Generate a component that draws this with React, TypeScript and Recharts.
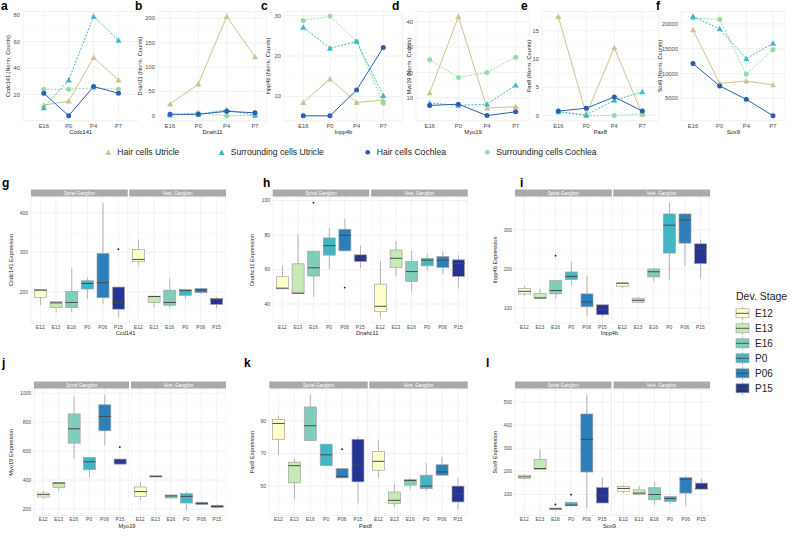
import { LineChart, Line, XAxis, YAxis, CartesianGrid, ComposedChart, Bar } from 'recharts';

const FONT = '"Liberation Sans", Arial, Helvetica, sans-serif';
const TICK = '#4d4d4d';
const GRID = '#ebebeb';
const GRID_MINOR = '#f4f4f4';

// ---- top row: normalised counts (one row per gene) ----
const genes = ['Ccdc141', 'Dnah11', 'Inpp4b', 'Myo19', 'Pax8', 'Sox9'];
const timepoints = ['E16', 'P0', 'P4', 'P7'];
const groups = ['Hair cells Utricle', 'Surrounding cells Utricle', 'Hair cells Cochlea', 'Surrounding cells Cochlea'];

const hairUtricle = [
  [12, 15, 48, 31],
  [24, 65, 204, 121],
  [8.5, 14.3, 8.5, 9.1],
  [12, 42, 6, 6.5],
  [17.5, 0.2, 12, 0.2],
  [18800, 8000, 8500, 7700],
];
const surroundUtricle = [
  [10, 31, 79, 61],
  [2, 3, 12, 1],
  [27.1, 21.9, 23.6, 10.2],
  [8, 7, 7.5, 15],
  [0.7, 0.1, 2.7, 4.2],
  [21500, 19000, 13000, 16100],
];
const hairCochlea = [
  [21, 4, 26, 21],
  [3, 3, 9, 6],
  [5.2, 5.2, 11.6, 22.1],
  [7, 7.5, 3, 4.5],
  [0.8, 1.3, 3.3, 0.8],
  [12000, 7500, 4800, 1500],
];
const surroundCochlea = [
  [24, 24, 25, 24],
  [1, 6, 0, 1],
  [28.8, 29.8, 23.6, 8.3],
  [25, 18, 20, 26],
  [0.6, 0, 0, 0.3],
  [21200, 20900, 9900, 14800],
];

const countTicks = [
  [20, 40, 60, 80],
  [0, 50, 100, 150, 200],
  [10, 20, 30],
  [10, 20, 30, 40],
  [0, 5, 10, 15],
  [5000, 10000, 15000, 20000],
];
const countMinor = [
  [10, 30, 50, 70],
  [25, 75, 125, 175],
  [5, 15, 25],
  [5, 15, 25, 35],
  [2.5, 7.5, 12.5, 17.5],
  [2500, 7500, 12500, 17500, 22500],
];
const countDomains = [
  [0.25, 82.75],
  [-10.2, 214.2],
  [4, 31],
  [1, 44],
  [-0.9, 18.4],
  [500, 22500],
];

// ---- boxplots: [min, q1, median, q3, max] per stage ----
const stages = ['E12', 'E13', 'E16', 'P0', 'P06', 'P15'];
const stageColors = ['#ffffcc', '#c7e9b4', '#7fcdbb', '#41b6c4', '#2c7fb8', '#253494'];

const ccdc141Spiral = [
  [166, 186, 204, 206, 207],
  [147, 160, 172, 175, 175],
  [149, 160, 173, 201, 259],
  [183, 207, 221, 228, 236],
  [170, 185, 223, 297, 425],
  [136, 156, 173, 212, 212],
];
const ccdc141Vest = [
  [268, 276, 282, 307, 332],
  [160, 173, 188, 189, 189],
  [160, 166, 173, 204, 234],
  [183, 191, 203, 206, 208],
  [194, 198, 205, 208, 208],
  [158, 168, 181, 183, 187],
];
const dnahc11Spiral = [
  [48.8, 48.8, 49.2, 55.8, 62.3],
  [46, 46, 46.3, 63.3, 80.2],
  [44.2, 56.2, 61, 70.6, 71],
  [60.4, 68.3, 73.8, 78.3, 84],
  [70.8, 70.8, 79.8, 83.3, 89.6],
  [60.8, 64.6, 66.5, 68.5, 73.7],
];
const dnahc11Vest = [
  [32.3, 35.6, 38.7, 51.5, 65],
  [56.3, 61.2, 66.5, 71.3, 76.5],
  [47.1, 53.1, 58.8, 64.6, 70.8],
  [59.2, 62.1, 65.4, 66.5, 68.8],
  [57.3, 61.2, 65.4, 67.5, 70.4],
  [49, 56, 63.5, 65.6, 68.3],
];
const inpp4bSpiral = [
  [130.5, 136.4, 143, 150, 156],
  [125.4, 125.4, 126, 138, 149],
  [123.7, 136.4, 145, 170.3, 170.3],
  [158.5, 173, 181, 192.4, 217],
  [80, 103.4, 116, 136.4, 183],
  [77, 83, 96.6, 108.5, 108.5],
];
const inpp4bVest = [
  [151.7, 156, 163.6, 164.4, 165],
  [115, 115, 120, 125.4, 129],
  [166, 179.7, 193, 200, 204],
  [171, 240.7, 312, 340.7, 369.5],
  [207, 266, 325, 340.7, 340.7],
  [176, 213.6, 253.4, 264.4, 274.6],
];
const myo19Spiral = [
  [271, 283, 299, 310, 326],
  [322, 349, 379, 384, 384],
  [547, 655, 754, 857, 977],
  [418, 471, 526, 556, 556],
  [639, 740, 839, 920, 989],
  [510, 510, 529, 545, 545],
];
const myo19Vest = [
  [260, 287, 320, 352, 384],
  [421, 421, 425, 430, 430],
  [271, 276, 290, 297, 299],
  [195, 241, 287, 306, 317],
  [230, 230, 239, 246, 251],
  [207, 211, 218, 225, 232],
];
const pax8Spiral = [
  [69.2, 78.7, 88.4, 90.8, 93.2],
  [41.9, 52, 62.5, 64.7, 66.8],
  [77.9, 77.9, 87, 98.5, 106],
  [62.5, 62.5, 69.2, 75.7, 75.7],
  [55, 55, 56, 60.7, 60.7],
  [39.5, 52.6, 63.5, 78.7, 80.3],
];
const pax8Vest = [
  [55, 59.7, 65.2, 71.2, 77.9],
  [37.3, 39.3, 41.3, 46.4, 51],
  [48, 50.6, 53.4, 54, 55],
  [47, 48.4, 50, 56.7, 64.1],
  [56.7, 56.7, 58.7, 63.1, 67.8],
  [35.5, 40.3, 45.4, 50, 55],
];
const sox9Spiral = [
  [166, 169, 176, 183, 187],
  [209, 209, 212, 252, 295],
  [34, 34, 38, 41, 41],
  [51, 51, 54, 66, 66],
  [40, 197, 338, 448, 531],
  [63, 63, 94, 130, 173],
];
const sox9Vest = [
  [106, 113, 126, 134, 140],
  [100, 100, 106, 120, 137],
  [56, 77, 100, 129, 154],
  [58, 70, 83, 91, 94],
  [51, 106, 166, 173, 180],
  [123, 123, 126, 149, 169],
];

// outliers in the spiral ganglion facet: [stage index, value]
const ccdc141Outliers = [[5, 308]];
const dnahc11Outliers = [[2, 98.8], [4, 49.5]];
const inpp4bOutliers = [[2, 234]];
const myo19Outliers = [[5, 628]];
const pax8Outliers = [[4, 72.6]];
const sox9Outliers = [[2, 57], [3, 99]];

const boxGenes = [
  { yTitle: 'Ccdc141 Expression', xTitle: 'Ccd141', spiral: ccdc141Spiral, vest: ccdc141Vest, outliers: ccdc141Outliers, domain: [121, 440], ticks: [200, 300, 400], minor: [150, 250, 350] },
  { yTitle: 'Dnahc11 Expression', xTitle: 'Dnahc11', spiral: dnahc11Spiral, vest: dnahc11Vest, outliers: dnahc11Outliers, domain: [29, 102], ticks: [40, 60, 80, 100], minor: [30, 50, 70, 90] },
  { yTitle: 'Inpp4b Expression', xTitle: 'Inpp4b', spiral: inpp4bSpiral, vest: inpp4bVest, outliers: inpp4bOutliers, domain: [62, 384], ticks: [100, 200, 300], minor: [150, 250, 350] },
  { yTitle: 'Myo19 Expression', xTitle: 'Myo19', spiral: myo19Spiral, vest: myo19Vest, outliers: myo19Outliers, domain: [155, 1029], ticks: [200, 400, 600, 800, 1000], minor: [300, 500, 700, 900] },
  { yTitle: 'Pax8 Expression', xTitle: 'Pax8', spiral: pax8Spiral, vest: pax8Vest, outliers: pax8Outliers, domain: [32, 109.5], ticks: [50, 70, 90], minor: [40, 60, 80, 100] },
  { yTitle: 'Sox9 Expression', xTitle: 'Sox9', spiral: sox9Spiral, vest: sox9Vest, outliers: sox9Outliers, domain: [9, 556], ticks: [100, 200, 300, 400, 500], minor: [50, 150, 250, 350, 450, 550] },
];

// ---- layout ----
const COLORS = ['#c9c58c', '#3fb8cb', '#2a5db5', '#93dcaa'];
const TOP_PLOT_TOP = 11.5;
const TOP_PLOT_BOTTOM = 120.7;
const TOP_AXIS_H = 12;

const topLayout = [
  { plotLeft: 22.5, pad: 20.8, plotRight: 138.8, letterX: 1, titleX: 7.5 },
  { plotLeft: 158, pad: 12, plotRight: 267, letterX: 135, titleX: 140 },
  { plotLeft: 284, pad: 19.3, plotRight: 402.6, letterX: 261, titleX: 268 },
  { plotLeft: 416.3, pad: 13.7, plotRight: 529.7, letterX: 392, titleX: 408.5 },
  { plotLeft: 542, pad: 16.3, plotRight: 658.6, letterX: 521, titleX: 528.5 },
  { plotLeft: 681.3, pad: 12, plotRight: 785.3, letterX: 656, titleX: 660 },
];

const boxLayout = [
  { left: 31, right: 226, gap: 1.5, top: 197, h: 126, letter: 'g', lx: 2, ly: 187, tx: 11 },
  { left: 272.7, right: 467.7, gap: 1.8, top: 197, h: 126, letter: 'h', lx: 263, ly: 187, tx: 252 },
  { left: 515, right: 710, gap: 1.5, top: 197, h: 126, letter: 'i', lx: 520, ly: 187, tx: 495 },
  { left: 34, right: 226, gap: 2, top: 389, h: 126.5, letter: 'j', lx: 2, ly: 367, tx: 11 },
  { left: 269.3, right: 467.7, gap: 1.6, top: 389, h: 126.5, letter: 'k', lx: 244, ly: 367, tx: 252 },
  { left: 515, right: 710, gap: 2, top: 389, h: 126.5, letter: 'l', lx: 486, ly: 367, tx: 495 },
];

const triPath = (cx: number, cy: number, r: number) =>
  `M${cx},${cy - r} L${cx + r},${cy + r * 0.8} L${cx - r},${cy + r * 0.8} Z`;

const makeDot = (color: string, tri: boolean) => (p: any) =>
  tri ? (
    <path key={`t${p.index}`} d={triPath(p.cx, p.cy, 3)} fill={color} />
  ) : (
    <circle key={`c${p.index}`} cx={p.cx} cy={p.cy} r={2.5} fill={color} />
  );

const CountPanel = ({ g }: { g: number }) => {
  const lay = topLayout[g];
  const yw = 30;
  const rows = timepoints.map((t, i) => ({
    t,
    hcu: hairUtricle[g][i],
    scu: surroundUtricle[g][i],
    hcc: hairCochlea[g][i],
    scc: surroundCochlea[g][i],
  }));
  const tick = { fontSize: 5.8, fill: TICK, fontFamily: FONT };
  return (
    <div style={{ position: 'absolute', left: lay.plotLeft - yw, top: 0 }}>
      <LineChart
        width={lay.plotRight - lay.plotLeft + yw}
        height={TOP_PLOT_BOTTOM + TOP_AXIS_H}
        data={rows}
        margin={{ top: TOP_PLOT_TOP, right: 0, bottom: 0, left: 0 }}
      >
        <CartesianGrid vertical={false} horizontalValues={countMinor[g]} stroke={GRID_MINOR} strokeWidth={0.5} />
        <CartesianGrid stroke={GRID} strokeWidth={0.7} />
        <XAxis
          dataKey="t"
          height={TOP_AXIS_H}
          padding={{ left: lay.pad, right: lay.pad }}
          axisLine={false}
          tickLine={false}
          tickSize={0}
          tickMargin={3.5}
          interval={0}
          tick={tick}
        />
        <YAxis
          width={yw}
          type="number"
          domain={countDomains[g]}
          ticks={countTicks[g]}
          allowDataOverflow
          axisLine={false}
          tickLine={false}
          tickSize={0}
          tickMargin={3}
          tick={tick}
        />
        <Line dataKey="scc" stroke={COLORS[3]} strokeWidth={1} strokeDasharray="2 1.5" dot={makeDot(COLORS[3], false)} activeDot={false} isAnimationActive={false} />
        <Line dataKey="hcu" stroke={COLORS[0]} strokeWidth={1} dot={makeDot(COLORS[0], true)} activeDot={false} isAnimationActive={false} />
        <Line dataKey="scu" stroke={COLORS[1]} strokeWidth={1} strokeDasharray="2 1.5" dot={makeDot(COLORS[1], true)} activeDot={false} isAnimationActive={false} />
        <Line dataKey="hcc" stroke={COLORS[2]} strokeWidth={1} dot={makeDot(COLORS[2], false)} activeDot={false} isAnimationActive={false} />
      </LineChart>
    </div>
  );
};

const BoxShape = (props: any) => {
  const { x, y, width, height, payload } = props;
  if (!payload || x == null) return null;
  const [lo, q1, med, q3, hi] = payload.stats;
  const top = height < 0 ? y + height : y;
  const h = Math.abs(height);
  const span = hi - lo || 1;
  const py = (v: number) => top + (h * (hi - v)) / span;
  const cx = x + width / 2;
  return (
    <g>
      <line x1={cx} x2={cx} y1={py(hi)} y2={py(lo)} stroke="#9a9a9a" strokeWidth={0.7} />
      <rect
        x={x}
        y={py(q3)}
        width={width}
        height={Math.max(py(q1) - py(q3), 0.8)}
        fill={payload.fill}
        stroke="#a3a3a3"
        strokeWidth={0.7}
      />
      <line x1={x} x2={x + width} y1={py(med)} y2={py(med)} stroke="#4a4a4a" strokeWidth={1} />
    </g>
  );
};

const outlierDot = (p: any) =>
  p.payload && p.payload.outlier != null ? (
    <circle key={`o${p.index}`} cx={p.cx} cy={p.cy} r={0.9} fill="#111" />
  ) : (
    <g key={`o${p.index}`} />
  );

const boxRows = (stats: number[][], outliers: number[][]) =>
  stages.map((s, i) => {
    const o = outliers.find((d) => d[0] === i);
    return {
      stage: s,
      range: [stats[i][0], stats[i][4]],
      stats: stats[i],
      fill: stageColors[i],
      outlier: o ? o[1] : null,
    };
  });

const BoxFacet = ({ rows, gene, width, height, showY }: any) => {
  const yw = showY ? 30 : 0;
  const tick = { fontSize: 5, fill: TICK, fontFamily: FONT };
  return (
    <ComposedChart width={width + yw} height={height + 10} data={rows} margin={{ top: 0, right: 0, bottom: 0, left: 0 }} barSize={12}>
      <CartesianGrid vertical={false} horizontalValues={gene.minor} stroke={GRID_MINOR} strokeWidth={0.5} />
      <CartesianGrid stroke={GRID} strokeWidth={0.7} />
      <XAxis
        dataKey="stage"
        height={10}
        padding={{ left: 1.5, right: 1.5 }}
        axisLine={false}
        tickLine={false}
        tickSize={0}
        tickMargin={2}
        interval={0}
        tick={tick}
      />
      <YAxis
        hide={!showY}
        width={yw}
        type="number"
        domain={gene.domain}
        ticks={gene.ticks}
        allowDataOverflow
        axisLine={false}
        tickLine={false}
        tickSize={0}
        tickMargin={3}
        tick={tick}
      />
      <Bar dataKey="range" shape={BoxShape} isAnimationActive={false} />
      <Line dataKey="outlier" stroke="none" dot={outlierDot} activeDot={false} isAnimationActive={false} />
    </ComposedChart>
  );
};

const BoxPanel = ({ i }: { i: number }) => {
  const lay = boxLayout[i];
  const gene = boxGenes[i];
  const fw = (lay.right - lay.left - lay.gap) / 2;
  return (
    <>
      <div style={{ position: 'absolute', left: lay.left - 30, top: lay.top }}>
        <BoxFacet rows={boxRows(gene.spiral, gene.outliers)} gene={gene} width={fw} height={lay.h} showY />
      </div>
      <div style={{ position: 'absolute', left: lay.left + fw + lay.gap, top: lay.top }}>
        <BoxFacet rows={boxRows(gene.vest, [])} gene={gene} width={fw} height={lay.h} showY={false} />
      </div>
    </>
  );
};

const Overlay = () => (
  <svg width={796} height={541} style={{ position: 'absolute', left: 0, top: 0, pointerEvents: 'none' }} fontFamily={FONT}>
    {/* top row labels */}
    {topLayout.map((lay, g) => (
      <g key={`tl${g}`}>
        <text x={lay.letterX} y={10} fontSize={12} fontWeight="bold" fill="#000">
          {'abcdef'[g]}
        </text>
        <text
          transform={`translate(${lay.titleX},${(TOP_PLOT_TOP + TOP_PLOT_BOTTOM) / 2}) rotate(-90)`}
          textAnchor="middle"
          dominantBaseline="central"
          fontSize={5.6}
          fill="#222"
        >
          {`${genes[g]} (Norm. Counts)`}
        </text>
        <text x={(lay.plotLeft + lay.plotRight) / 2} y={133.5} textAnchor="middle" fontSize={5.8} fill="#222">
          {genes[g]}
        </text>
      </g>
    ))}
    {/* top legend */}
    {[108.3, 221.7, 367.7, 487.3].map((x, k) => (
      <g key={`lg${k}`}>
        {k < 2 ? (
          <path d={triPath(x, 152.5, 3)} fill={COLORS[k]} />
        ) : (
          <circle cx={x} cy={152.3} r={2.4} fill={COLORS[k]} />
        )}
        <text x={x + 9} y={155.3} fontSize={8.6} fill="#222">
          {groups[k]}
        </text>
      </g>
    ))}
    {/* boxplot labels */}
    {boxLayout.map((lay, i) => {
      const fw = (lay.right - lay.left - lay.gap) / 2;
      const gene = boxGenes[i];
      return (
        <g key={`bl${i}`}>
          <text x={lay.lx} y={lay.ly} fontSize={12} fontWeight="bold" fill="#000">
            {lay.letter}
          </text>
          {[['Spiral Ganglion', lay.left], ['Vest. Ganglion', lay.left + fw + lay.gap]].map(([label, x]) => (
            <g key={`${label}`}>
              <rect x={x as number} y={lay.top - 7.5} width={fw} height={7} fill="#a9a9a9" />
              <text x={(x as number) + fw / 2} y={lay.top - 2.3} textAnchor="middle" fontSize={4.6} fill="#fff">
                {label}
              </text>
            </g>
          ))}
          <text
            transform={`translate(${lay.tx},${lay.top + lay.h / 2}) rotate(-90)`}
            textAnchor="middle"
            dominantBaseline="central"
            fontSize={5.7}
            fill="#222"
          >
            {gene.yTitle}
          </text>
          <text x={(lay.left + lay.right) / 2 - 3} y={lay.top + lay.h + 12.3} textAnchor="middle" fontSize={5.7} fill="#222">
            {gene.xTitle}
          </text>
        </g>
      );
    })}
    {/* dev stage legend */}
    <text x={736} y={300} fontSize={10.5} fill="#222">
      Dev. Stage
    </text>
    {stages.map((s, k) => {
      const cy = 313.3 + k * 15;
      return (
        <g key={`ds${s}`}>
          <line x1={742.5} x2={742.5} y1={cy - 6.5} y2={cy + 6.5} stroke="#9a9a9a" strokeWidth={0.7} />
          <rect x={736} y={cy - 4.5} width={13} height={9} fill={stageColors[k]} stroke="#a3a3a3" strokeWidth={0.7} />
          <line x1={736} x2={749} y1={cy} y2={cy} stroke="#4a4a4a" strokeWidth={0.9} />
          <text x={755} y={cy + 3.6} fontSize={10} fill="#222">
            {s}
          </text>
        </g>
      );
    })}
  </svg>
);

export default function App() {
  return (
    <div style={{ position: 'absolute', left: 0, top: 0, width: 796, height: 541, background: '#fff', fontFamily: FONT }}>
      {genes.map((_, g) => (
        <CountPanel key={`cp${g}`} g={g} />
      ))}
      {boxGenes.map((_, i) => (
        <BoxPanel key={`bp${i}`} i={i} />
      ))}
      <Overlay />
    </div>
  );
}
